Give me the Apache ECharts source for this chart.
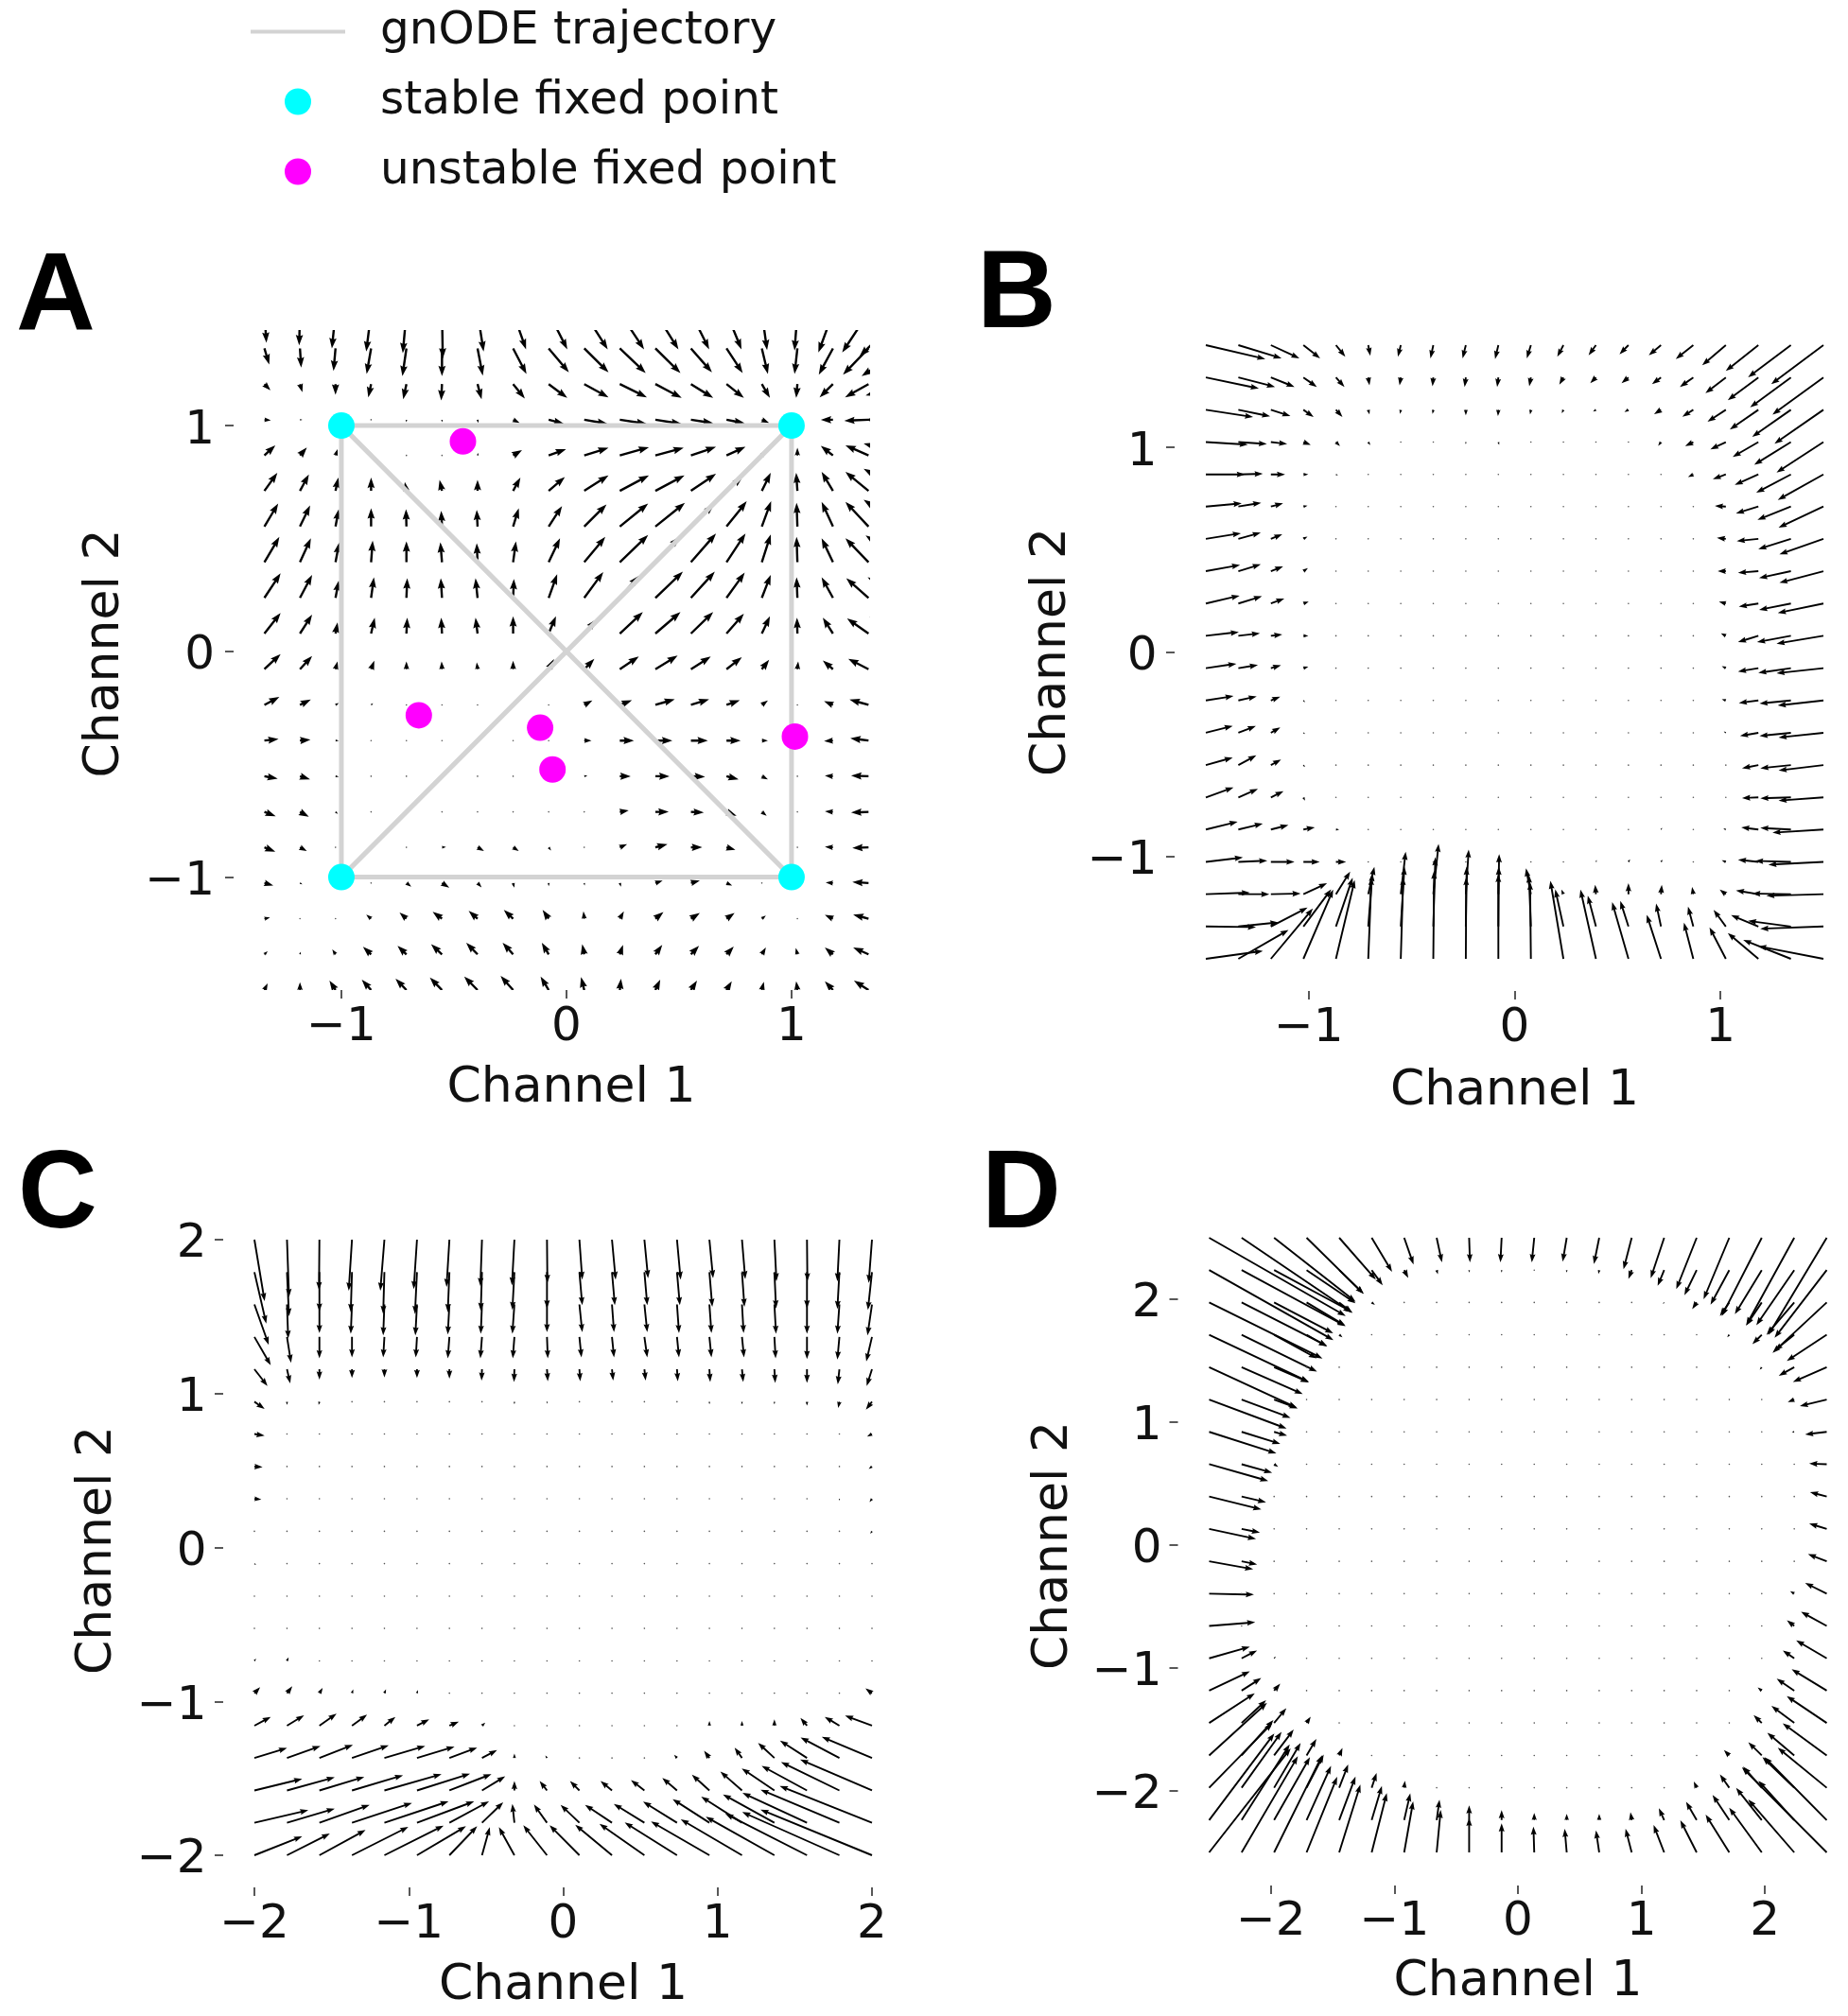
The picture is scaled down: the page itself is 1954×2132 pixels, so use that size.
<!DOCTYPE html>
<html>
<head>
<meta charset="utf-8">
<script src="https://cdn.jsdelivr.net/npm/echarts@6/dist/echarts.min.js"></script>
<style>
  html, body { margin: 0; padding: 0; background: #fff; }
  #main { width: 1954px; height: 2132px; }
</style>
</head>
<body>
<div id="main"></div>
<script>
// tail positions of the quiver grids
var gridA_X = [-1.342,-1.184,-1.026,-0.868,-0.711,-0.553,-0.395,-0.237,-0.079,0.079,0.237,0.395,0.553,0.711,0.868,1.026,1.184,1.342,1.5];
var gridA_Y = [1.5,1.342,1.184,1.026,0.868,0.711,0.553,0.395,0.237,0.079,-0.079,-0.237,-0.395,-0.553,-0.711,-0.868,-1.026,-1.184,-1.342,-1.5];
var gridB_X = [-1.5,-1.342,-1.184,-1.026,-0.868,-0.711,-0.553,-0.395,-0.237,-0.079,0.079,0.237,0.395,0.553,0.711,0.868,1.026,1.184,1.342,1.5];
var gridB_Y = [1.5,1.342,1.184,1.026,0.868,0.711,0.553,0.395,0.237,0.079,-0.079,-0.237,-0.395,-0.553,-0.711,-0.868,-1.026,-1.184,-1.342,-1.5];
var gridC_X = [-2,-1.789,-1.579,-1.368,-1.158,-0.947,-0.737,-0.526,-0.316,-0.105,0.105,0.316,0.526,0.737,0.947,1.158,1.368,1.579,1.789,2];
var gridC_Y = [2,1.789,1.579,1.368,1.158,0.947,0.737,0.526,0.316,0.105,-0.105,-0.316,-0.526,-0.737,-0.947,-1.158,-1.368,-1.579,-1.789,-2];
var gridD_X = [-2.5,-2.237,-1.974,-1.711,-1.447,-1.184,-0.921,-0.658,-0.395,-0.132,0.132,0.395,0.658,0.921,1.184,1.447,1.711,1.974,2.237,2.5];
var gridD_Y = [2.5,2.237,1.974,1.711,1.447,1.184,0.921,0.658,0.395,0.132,-0.132,-0.395,-0.658,-0.921,-1.184,-1.447,-1.711,-1.974,-2.237,-2.5];

// panel A flow, read arrow by arrow (rows top to bottom)
var flowA_U = [
[5,-2,-9,-12,-9,2,15,32,46,58,60,57,45,37,13,-7,-36,-65,-110],
[12,3,-5,-11,-10,0,13,33,50,60,64,62,52,40,15,-7,-35,-63,-105],
[15,6,0,-7,-8,-2,10,29,46,60,67,65,55,43,20,-3,-33,-58,-95],
[16,6,0,0,0,0,2,16,38,58,67,65,55,45,18,-2,-30,-60,-95],
[27,17,5,1,4,4,2,22,43,60,72,70,62,47,12,0,-30,-57,-100],
[32,22,7,0,-4,-6,0,18,40,60,72,72,62,40,22,-3,-28,-57,-100],
[34,25,8,0,-1,-2,-2,14,33,55,70,73,57,50,23,-2,-28,-57,-100],
[37,27,9,4,0,-4,-2,7,28,52,70,60,62,47,22,-2,-28,-57,-95],
[40,30,8,7,2,-3,-5,2,21,47,47,68,59,45,22,-2,-28,-55,-90],
[40,30,5,9,2,-2,-5,0,18,30,57,62,55,43,20,-1,-25,-53,-85],
[40,30,5,8,0,-1,-2,0,13,25,47,55,49,38,18,2,-25,-50,-80],
[37,27,8,5,2,1,2,1,3,20,30,48,45,33,15,0,-22,-47,-75],
[35,26,8,4,2,2,0,2,0,18,35,42,42,35,15,0,-22,-45,-70],
[33,25,8,3,0,0,4,4,0,8,27,35,35,30,15,1,-20,-43,-68],
[28,22,6,0,0,3,5,5,2,4,22,33,32,25,12,0,-20,-43,-65],
[27,17,3,0,5,10,16,14,6,2,18,30,28,22,3,0,-20,-40,-62],
[22,6,0,4,12,18,10,3,0,1,3,18,22,14,3,0,-18,-40,-60],
[14,3,1,-12,-17,-23,-22,-23,-15,-2,10,20,22,20,10,0,-20,-38,-58],
[8,2,-8,-20,-22,-27,-28,-26,-17,-5,8,17,20,18,10,-4,-20,-38,-55],
[8,0,-15,-23,-27,-30,-33,-31,-20,-8,3,12,15,13,5,-3,-20,-36,-55]
];
var flowA_V = [
[-95,-103,-113,-123,-128,-145,-123,-116,-116,-116,-116,-116,-116,-116,-118,-120,-126,-126,-138],
[-51,-61,-71,-81,-88,-88,-86,-81,-76,-76,-78,-78,-76,-78,-81,-81,-83,-83,-88],
[-20,-26,-34,-42,-48,-52,-48,-46,-44,-42,-42,-44,-44,-44,-44,-44,-42,-42,-36],
[-2,0,0,-6,-8,-8,-10,-10,-13,-13,-13,-13,-11,-11,-10,0,0,-3,0],
[32,25,20,4,-4,-4,8,17,20,24,26,24,27,27,15,24,30,32,38],
[57,52,42,42,28,35,35,42,44,49,49,49,54,45,57,57,60,60,70],
[73,67,55,58,55,50,53,58,65,70,73,75,70,80,80,75,78,78,85],
[80,76,62,68,66,63,60,66,76,80,86,80,91,91,88,80,76,76,85],
[78,73,55,65,62,62,62,60,75,82,70,83,83,80,73,65,65,62,65],
[65,60,35,50,50,50,50,55,55,45,68,68,68,63,55,50,50,48,53],
[48,42,25,27,25,25,22,27,32,33,40,43,40,38,30,25,28,33,36],
[25,17,6,5,0,2,1,2,6,14,15,18,18,15,14,4,12,17,22],
[5,3,0,1,0,0,0,3,0,0,0,0,0,0,0,0,-2,7,7],
[-8,-10,-2,-4,-3,0,0,0,0,2,0,0,-2,-10,-10,0,2,2,2],
[-14,-15,-6,-4,0,0,0,0,-2,3,5,0,-2,-12,-12,-2,2,-2,0],
[-14,-12,-3,0,0,1,-12,-12,-10,-5,10,10,0,-8,-3,2,2,-2,-2],
[-8,-4,0,-3,-12,-15,-14,-15,-10,-8,-12,8,8,-8,-3,0,2,3,3],
[4,0,1,13,20,22,25,28,28,23,23,21,18,18,10,2,12,13,15],
[10,8,16,24,27,32,37,37,37,32,30,30,27,25,22,20,22,22,25],
[21,25,30,33,36,40,43,45,43,41,36,33,30,28,26,28,28,30,33]
];

// panel B flow
var flowB_U = [
[146,106,70,41,23,5,-7,-7,-8,-8,-10,-15,-18,-22,-30,-43,-58,-80,-105,-128],
[130,90,58,33,21,3,-3,-2,-3,-3,-4,-10,-14,-17,-22,-33,-50,-75,-100,-125],
[116,78,48,25,16,3,-2,-2,0,-1,-2,-4,-7,-10,-17,-27,-45,-70,-95,-120],
[103,70,40,18,10,5,0,1,0,2,0,0,1,-3,-7,-20,-38,-63,-90,-115],
[96,60,35,12,5,3,0,0,0,0,0,0,0,0,-2,-13,-32,-58,-85,-112],
[88,56,30,10,2,2,2,1,2,2,2,2,2,2,2,-4,-27,-55,-82,-110],
[86,55,28,10,1,1,1,1,0,0,1,1,1,1,1,0,-22,-53,-80,-108],
[84,55,30,11,2,1,1,1,1,0,1,1,1,1,1,0,-20,-50,-78,-108],
[83,58,33,13,3,1,1,1,0,0,1,1,0,1,1,0,-17,-48,-78,-112],
[81,53,28,12,2,1,1,1,1,0,1,0,1,1,-2,0,-12,-50,-83,-115],
[75,48,25,12,1,1,1,1,1,1,1,1,1,1,1,0,-10,-50,-80,-115],
[68,45,23,4,1,1,1,1,1,1,1,1,1,1,1,0,-10,-48,-77,-112],
[66,43,23,4,0,1,1,1,1,1,1,0,1,1,1,0,-5,-45,-77,-110],
[66,44,25,4,1,1,1,1,1,1,1,1,1,1,1,0,-3,-40,-75,-110],
[68,48,31,4,2,1,0,0,1,0,1,1,1,0,1,0,-2,-40,-75,-110],
[78,60,43,28,8,1,1,1,1,1,1,0,0,2,3,2,-6,-42,-75,-125],
[91,71,58,40,25,4,0,0,0,0,0,1,2,4,4,2,-10,-50,-88,-135],
[108,76,73,58,35,15,12,13,7,2,-12,-5,-2,0,2,-3,-15,-55,-95,-140],
[123,98,90,68,41,10,9,5,2,1,-5,-20,-20,-20,-12,-13,-30,-67,-105,-155],
[140,123,103,73,46,8,6,2,1,0,-2,-32,-38,-40,-35,-23,-40,-75,-117,-160]
];
var flowB_V = [
[-44,-42,-42,-42,-37,-34,-37,-42,-42,-44,-42,-37,-32,-29,-32,-44,-64,-82,-102,-124],
[-35,-30,-30,-30,-30,-25,-25,-28,-30,-30,-28,-23,-18,-18,-21,-30,-50,-72,-95,-118],
[-23,-21,-20,-23,-23,-15,-13,-13,-18,-20,-15,-11,-6,-7,-14,-22,-38,-63,-86,-108],
[-8,-6,-6,-9,-13,-10,-2,-3,-7,-9,-3,-2,0,-3,-12,-13,-23,-47,-72,-97],
[0,2,0,0,-3,-3,0,0,-4,-3,-2,-2,0,-2,-2,-8,-15,-33,-58,-81],
[10,12,10,3,0,0,0,0,0,0,0,0,0,0,0,0,2,-22,-42,-67],
[18,20,15,7,0,0,0,0,0,0,0,0,0,0,0,0,3,-7,-33,-49],
[20,22,15,10,2,0,0,0,0,0,0,0,0,0,0,0,0,-5,-22,-37],
[25,23,16,6,4,0,0,0,0,0,0,0,0,0,0,0,6,-10,-20,-30],
[12,8,4,0,0,0,0,0,0,0,0,0,0,0,4,0,8,-20,-20,-25],
[14,10,9,5,0,0,0,0,0,0,0,0,0,0,0,0,6,-11,-15,-16],
[14,13,12,-6,0,0,0,0,0,0,0,0,0,0,0,0,4,-8,-10,-16],
[22,22,17,-4,0,0,0,0,0,0,0,0,0,0,0,0,4,-10,-10,-15],
[24,31,18,-6,0,0,0,0,0,0,0,0,0,0,0,0,3,-10,-10,-17],
[32,27,20,-10,-2,0,0,0,0,0,0,0,0,0,0,0,0,-2,-3,-10],
[25,19,14,7,0,0,0,0,0,0,0,0,0,4,5,3,4,7,5,-10],
[14,4,0,0,0,0,0,0,0,0,3,2,6,8,7,4,5,7,3,-9],
[5,0,2,35,72,87,135,160,142,127,82,15,30,35,30,23,15,12,2,-5],
[-2,13,60,118,155,170,190,220,190,190,165,118,98,81,73,63,53,36,18,-7],
[25,92,160,220,250,260,260,280,260,270,245,248,220,180,140,115,100,82,60,40]
];

// panel C flow
var flowC_U = [
[25,5,-1,-8,-10,-8,-7,-4,-6,1,7,9,9,9,9,8,5,1,-5,-8],
[29,5,0,-3,-3,-5,-4,-3,-5,0,7,7,7,7,7,6,4,0,-5,-10],
[35,3,0,-3,-3,-4,-4,-3,-5,0,7,5,7,5,5,4,4,0,-5,-11],
[40,10,0,0,-3,-3,-4,-4,-4,2,5,5,7,5,5,5,3,0,-5,-14],
[32,8,0,0,0,0,0,-1,-1,2,2,3,3,2,2,3,2,0,-4,-13],
[25,0,-2,0,0,0,0,0,0,1,0,1,0,0,0,0,0,0,-3,-15],
[25,0,0,0,0,0,0,0,0,0,0,0,0,0,0,0,0,0,-3,-12],
[20,1,0,0,0,0,0,0,0,0,0,0,0,0,0,0,0,0,0,-8],
[17,1,0,0,0,0,0,0,0,0,0,0,0,0,0,0,0,0,0,-6],
[4,0,0,0,0,0,0,0,0,0,0,0,0,0,0,0,0,0,0,-4],
[4,0,0,0,0,0,0,0,0,0,0,0,0,0,0,0,0,0,0,0],
[3,0,0,0,0,0,0,0,0,0,0,0,0,0,0,0,0,0,0,0],
[3,1,0,0,0,0,0,0,0,0,0,0,0,0,0,0,0,0,0,0],
[4,4,1,0,0,0,0,0,0,0,0,0,0,0,0,0,0,0,0,0],
[14,13,8,3,4,2,0,0,0,0,0,0,0,0,0,0,0,0,0,-16],
[40,42,42,37,27,30,23,8,0,0,0,0,0,0,0,0,0,-16,-36,-66],
[80,82,82,90,100,92,68,37,0,-4,-3,-3,-3,-7,-13,-18,-40,-66,-95,-123],
[117,117,110,125,140,130,103,57,0,-18,-23,-28,-33,-36,-43,-53,-80,-111,-143,-176],
[132,117,123,147,157,140,97,52,-5,-32,-46,-66,-75,-83,-90,-100,-126,-158,-193,-226],
[117,105,113,138,145,120,68,19,-38,-58,-73,-90,-110,-128,-143,-150,-168,-200,-238,-273]
];
var flowC_V = [
[-195,-182,-160,-162,-162,-157,-150,-147,-145,-137,-127,-127,-122,-127,-122,-125,-132,-132,-132,-137],
[-163,-140,-125,-127,-133,-133,-127,-123,-120,-115,-105,-105,-105,-105,-110,-110,-115,-115,-117,-120],
[-128,-108,-91,-93,-98,-98,-95,-93,-93,-88,-88,-88,-88,-91,-91,-91,-93,-93,-93,-98],
[-90,-82,-68,-65,-65,-65,-68,-68,-68,-68,-65,-65,-65,-65,-65,-65,-68,-70,-72,-78],
[-53,-45,-33,-28,-26,-28,-30,-36,-40,-38,-38,-36,-36,-38,-40,-40,-43,-43,-48,-53],
[-23,-10,-10,-3,0,0,0,-2,-8,-6,-4,-4,-4,-4,-8,-8,-8,-12,-20,-25],
[-5,0,0,0,0,0,0,0,0,0,0,0,0,0,0,0,0,0,-3,-8],
[-2,3,0,0,0,0,0,0,0,0,0,0,0,0,0,0,0,0,0,-8],
[-2,2,0,0,0,0,0,0,0,0,0,0,0,0,0,0,0,0,-6,-10],
[0,0,0,0,0,0,0,0,0,0,0,0,0,0,0,0,0,0,0,-8],
[-4,0,0,0,0,0,0,0,0,0,0,0,0,0,0,0,0,0,0,-5],
[3,0,0,0,0,0,0,0,0,0,0,0,0,0,0,0,0,0,0,0],
[3,4,0,0,0,0,0,0,0,0,0,0,0,0,0,0,0,0,0,0],
[7,11,2,0,0,0,0,0,0,0,0,0,0,0,0,0,0,0,0,0],
[19,22,17,12,12,10,3,3,0,0,0,0,0,0,0,0,0,0,0,15],
[28,33,38,35,28,20,13,10,5,2,0,0,0,3,15,15,20,25,28,32],
[32,38,42,40,38,36,33,25,14,8,3,0,2,10,23,33,48,55,65,67],
[37,42,43,48,52,53,52,45,30,30,30,30,33,40,50,60,70,78,90,98],
[40,45,57,63,68,68,68,65,60,58,57,57,60,67,75,83,90,95,105,117],
[60,69,80,90,94,92,92,89,89,95,95,97,100,104,107,114,122,132,137,145]
];

// panel D flow
var flowD_U = [
[335,272,200,140,90,50,23,13,2,-3,-6,-10,-13,-20,-33,-50,-63,-98,-118,-143],
[305,255,190,120,60,27,10,3,0,0,0,0,-2,-8,-16,-30,-46,-66,-93,-128],
[278,210,145,95,32,8,0,0,0,0,0,0,0,0,-3,-11,-23,-38,-68,-133],
[245,185,105,50,8,0,0,0,0,0,0,0,0,0,0,0,-5,-23,-48,-98],
[215,150,85,0,0,0,0,0,0,0,0,0,0,0,0,0,0,-5,-38,-83],
[190,120,58,0,0,0,0,0,0,0,0,0,0,0,0,0,0,0,-16,-66],
[165,95,32,0,0,0,0,0,0,0,0,0,0,0,0,0,0,0,-6,-53],
[145,75,10,0,0,0,0,0,0,0,0,0,0,0,0,0,0,0,-2,-43],
[128,60,0,0,0,0,0,0,0,0,0,0,0,0,0,0,0,0,0,-41],
[115,45,0,0,0,0,0,0,0,0,0,0,0,0,0,0,0,0,0,-43],
[108,38,0,0,0,0,0,0,0,0,0,0,0,0,0,0,0,0,-2,-46],
[110,0,0,0,0,0,0,0,0,0,0,0,0,0,0,0,0,0,-10,-53],
[113,0,0,0,0,0,0,0,0,0,0,0,0,0,0,0,0,0,-18,-63],
[100,38,4,0,0,0,0,0,0,0,0,0,0,0,0,0,0,0,-28,-75],
[100,48,15,0,0,0,0,0,0,0,0,0,0,0,0,0,0,-10,-43,-86],
[112,60,30,10,0,0,0,0,0,0,0,0,0,0,0,0,-2,-20,-56,-98],
[142,78,48,24,8,0,0,0,0,0,0,0,0,0,0,0,-13,-33,-66,-108],
[155,98,65,42,22,12,2,0,0,0,0,0,0,0,0,-7,-23,-46,-78,-120],
[160,118,88,60,40,25,15,7,0,0,0,0,0,-3,-13,-26,-41,-63,-88,-153],
[200,138,118,75,52,37,22,10,0,0,-2,-5,-8,-15,-26,-40,-58,-80,-113,-208]
];
var flowD_V = [
[-248,-238,-203,-178,-133,-108,-85,-78,-78,-78,-78,-76,-83,-100,-128,-163,-195,-248,-278,-308],
[-222,-178,-132,-105,-75,-48,-25,-13,-8,-8,-5,-8,-12,-28,-50,-80,-110,-140,-175,-215],
[-178,-138,-98,-73,-33,-8,0,0,0,0,0,0,0,0,-5,-21,-43,-73,-103,-160],
[-150,-117,-75,-37,-8,0,0,0,0,0,0,0,0,0,0,0,-8,-30,-50,-83],
[-128,-85,-48,0,0,0,0,0,0,0,0,0,0,0,0,0,0,-8,-27,-47],
[-92,-58,-28,0,0,0,0,0,0,0,0,0,0,0,0,0,0,0,-8,-21],
[-68,-38,-12,0,0,0,0,0,0,0,0,0,0,0,0,0,0,0,0,-8],
[-53,-27,-8,0,0,0,0,0,0,0,0,0,0,0,0,0,0,0,0,2],
[-41,-18,0,0,0,0,0,0,0,0,0,0,0,0,0,0,0,0,0,14],
[-32,-12,0,0,0,0,0,0,0,0,0,0,0,0,0,0,0,0,0,17],
[-25,-10,0,0,0,0,0,0,0,0,0,0,0,0,0,0,0,0,0,23],
[-3,0,0,0,0,0,0,0,0,0,0,0,0,0,0,0,0,0,8,34],
[12,0,0,0,0,0,0,0,0,0,0,0,0,0,0,0,0,0,18,45],
[37,25,6,0,0,0,0,0,0,0,0,0,0,0,0,0,0,0,25,57],
[61,40,22,0,0,0,0,0,0,0,0,0,0,0,0,0,0,10,38,68],
[94,72,47,20,0,0,0,0,0,0,0,0,0,0,0,0,3,25,54,85],
[167,112,82,52,24,0,0,0,0,0,0,0,0,0,0,0,17,42,72,102],
[205,177,142,105,74,47,22,3,0,0,0,0,0,0,0,20,42,67,97,127],
[275,240,200,172,138,108,85,65,47,32,23,20,20,25,38,58,80,102,125,200],
[330,305,308,240,215,188,162,135,110,92,82,75,70,75,87,102,120,142,168,270]
];

// panel A overlay
var trajX = [-1,1,-1,1,1,null,-1,-1,1];
var trajY = [1,1,-1,-1,1,null,-1,1,-1];
var stableX = [-1,1,-1,1];
var stableY = [1,1,-1,-1];
var unstableX = [-0.46,-0.656,-0.117,-0.062,1.015];
var unstableY = [0.93,-0.283,-0.338,-0.523,-0.377];

var ticksAB = [-1,0,1];
var ticksC = [-2,-1,0,1,2];
var ticksD = [-2,-1,0,1,2];

var FONT = 'DejaVu Sans';

function zip(xs, ys) {
    return xs.map(function (x, i) { return x === null ? [null, null] : [x, ys[i]]; });
}

function quiverSeries(idx, xs, ys, U, V, qU, qV, w, clip) {
    var data = [];
    ys.forEach(function (y, r) {
        xs.forEach(function (x, k) {
            data.push([x, y, U[r][k], V[r][k]]);
        });
    });
    return {
        type: 'custom',
        xAxisIndex: idx,
        yAxisIndex: idx,
        clip: clip,
        silent: true,
        z: 1,
        encode: { x: 0, y: 1 },
        data: data,
        renderItem: function (params, api) {
            var x = api.value(0), y = api.value(1);
            var p0 = api.coord([x, y]);
            var p1 = api.coord([x + api.value(2) / qU, y + api.value(3) / qV]);
            var dx = p1[0] - p0[0], dy = p1[1] - p0[1];
            var len = Math.sqrt(dx * dx + dy * dy);
            if (len < w) {
                return {
                    type: 'circle',
                    shape: { cx: p0[0], cy: p0[1], r: 0.8 },
                    style: { fill: '#555' }
                };
            }
            // same proportions as a matplotlib quiver arrow
            var headLen = 4.6 * w;
            var k = len >= headLen ? 1 : len / headLen;
            var hl = headLen * k, hal = headLen * 0.9 * k, sw = w / 2 * k, hw = w * 1.6 * k;
            var c = dx / len, s = dy / len;
            var local = [[0, sw], [len - hal, sw], [len - hl, hw], [len, 0], [len - hl, -hw], [len - hal, -sw], [0, -sw]];
            return {
                type: 'polygon',
                shape: {
                    points: local.map(function (p) {
                        return [p0[0] + p[0] * c - p[1] * s, p0[1] + p[0] * s + p[1] * c];
                    })
                },
                style: { fill: '#000' }
            };
        }
    };
}

function tickLabel(v) {
    return String(v).replace('-', '\u2212');
}

function xAxisOf(idx, min, max, ticks, offset, margin, nameGap, namePad) {
    return {
        type: 'value', gridIndex: idx, min: min, max: max, offset: offset,
        name: 'Channel 1', nameLocation: 'middle', nameGap: nameGap,
        nameTextStyle: { fontFamily: FONT, fontSize: 52, color: '#111', padding: namePad },
        axisLine: { show: false, onZero: false },
        splitLine: { show: false },
        axisTick: { show: true, length: 9, customValues: ticks, lineStyle: { color: '#222', width: 1.5 } },
        axisLabel: { margin: margin, fontFamily: FONT, fontSize: 50, color: '#111', customValues: ticks, formatter: tickLabel }
    };
}

function yAxisOf(idx, min, max, ticks, offset, margin, nameGap, namePad) {
    return {
        type: 'value', gridIndex: idx, min: min, max: max, offset: offset,
        name: 'Channel 2', nameLocation: 'middle', nameGap: nameGap, nameRotate: 90,
        nameTextStyle: { fontFamily: FONT, fontSize: 52, color: '#111', padding: namePad },
        axisLine: { show: false, onZero: false },
        splitLine: { show: false },
        axisTick: { show: true, length: 9, customValues: ticks, lineStyle: { color: '#222', width: 1.5 } },
        axisLabel: {
            margin: margin, fontFamily: FONT, fontSize: 50, color: '#111', customValues: ticks, formatter: tickLabel,
            verticalAlign: 'top', lineHeight: 11
        }
    };
}

function letter(text, left, top) {
    return {
        text: text, left: left, top: top, padding: 0,
        textStyle: { fontFamily: 'Liberation Sans', fontWeight: 'bold', fontSize: 116, color: '#000' }
    };
}

var chart = echarts.init(document.getElementById('main'));
chart.setOption({
    animation: false,
    backgroundColor: '#fff',
    title: [
        letter('A', 17, 259),
        letter('B', 1033, 256),
        letter('C', 19, 1208),
        letter('D', 1038, 1208)
    ],
    legend: {
        orient: 'vertical', left: 260, top: 4, itemWidth: 100, itemHeight: 28, itemGap: 25,
        selectedMode: false,
        data: [
            { name: 'gnODE trajectory', icon: 'path://M0,0H100V4H0Z' },
            { name: 'stable fixed point' },
            { name: 'unstable fixed point' }
        ],
        textStyle: { fontFamily: FONT, fontSize: 48.5, color: '#111', padding: [0, 0, 0, 32] }
    },
    grid: [
        { left: 276, top: 349, width: 644, height: 698 },
        { left: 1275, top: 365, width: 653, height: 649 },
        { left: 269, top: 1311, width: 653, height: 651 },
        { left: 1278.5, top: 1309, width: 653, height: 650 }
    ],
    xAxis: [
        xAxisOf(0, -1.357, 1.349, ticksAB, 0, 15, 78, [0, 0, 0, 12]),
        xAxisOf(1, -1.5, 1.5, ticksAB, 34, 15, 80, 0),
        xAxisOf(2, -2, 2, ticksC, 34, 15.5, 78, 0),
        xAxisOf(3, -2.5, 2.5, ticksD, 35, 14, 76, 0)
    ],
    yAxis: [
        yAxisOf(0, -1.5, 1.4235, ticksAB, 29, 20, 110, [0, 0, 0, 14]),
        yAxisOf(1, -1.5, 1.5, ticksAB, 33, 18.5, 104, 0),
        yAxisOf(2, -2, 2, ticksC, 33, 17.5, 107, [0, 6, 0, 0]),
        yAxisOf(3, -2.5, 2.5, ticksD, 33, 17, 105, [0, 1, 0, 0])
    ],
    series: [
        quiverSeries(0, gridA_X, gridA_Y, flowA_U, flowA_V, 556, 715, 2.4, true),
        quiverSeries(1, gridB_X, gridB_Y, flowB_U, flowB_V, 505, 650, 1.9, false),
        quiverSeries(2, gridC_X, gridC_Y, flowC_U, flowC_V, 378, 488, 1.9, false),
        quiverSeries(3, gridD_X, gridD_Y, flowD_U, flowD_V, 303, 390, 1.9, false),
        {
            name: 'gnODE trajectory', type: 'line', xAxisIndex: 0, yAxisIndex: 0,
            data: zip(trajX, trajY), showSymbol: false, symbol: 'none', connectNulls: false, z: 2,
            lineStyle: { color: '#d3d3d3', width: 5 }, itemStyle: { color: '#d3d3d3' }
        },
        {
            name: 'stable fixed point', type: 'scatter', xAxisIndex: 0, yAxisIndex: 0,
            data: zip(stableX, stableY), symbolSize: 28, z: 3, itemStyle: { color: '#00ffff', opacity: 1 }
        },
        {
            name: 'unstable fixed point', type: 'scatter', xAxisIndex: 0, yAxisIndex: 0,
            data: zip(unstableX, unstableY), symbolSize: 28, z: 3, itemStyle: { color: '#ff00ff', opacity: 1 }
        }
    ]
});
</script>
</body>
</html>
